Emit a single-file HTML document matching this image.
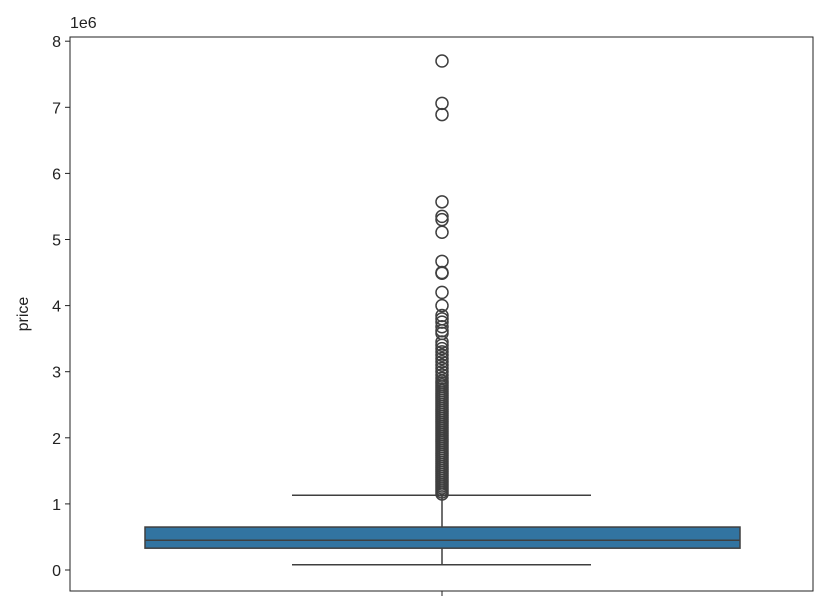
<!DOCTYPE html>
<html><head><meta charset="utf-8"><style>
body{margin:0;background:#fff;}
svg text{font-family:"Liberation Sans","DejaVu Sans",sans-serif;fill:#222;}
</style></head><body>
<svg id="chart" width="832" height="610" xmlns="http://www.w3.org/2000/svg"></svg>
<script>
const tickValues=[0,1,2,3,4,5,6,7,8];
const boxStats={q1:0.33,median:0.45,q3:0.65,whiskerLow:0.08,whiskerHigh:1.13};
const outliers=[7.7,7.06,6.89,5.57,5.35,5.3,5.11,4.67,4.5,4.49,4.2,4.0,3.85,3.8,3.75,3.68,3.62,3.58,3.45,3.4,3.35,3.3,3.25,3.2,3.15,3.1,3.05,3.0,2.95,2.9,2.86,2.83,2.8,2.77,2.74,2.71,2.68,2.65,2.62,2.59,2.56,2.53,2.5,2.47,2.44,2.41,2.38,2.35,2.32,2.29,2.26,2.23,2.2,2.17,2.14,2.11,2.08,2.05,2.02,1.99,1.96,1.93,1.9,1.87,1.84,1.81,1.78,1.75,1.72,1.69,1.66,1.63,1.6,1.57,1.54,1.51,1.48,1.45,1.42,1.39,1.36,1.33,1.3,1.27,1.24,1.21,1.18,1.15];
const svg=document.getElementById('chart');
const NS='http://www.w3.org/2000/svg';
const L=70,R=813,T=37,B=591,cx=442;
const y=v=>570-v*66.1;
function mk(t,a){const e=document.createElementNS(NS,t);for(const k in a)e.setAttribute(k,a[k]);svg.appendChild(e);return e;}
tickValues.forEach(v=>{
  const l=mk('line',{x1:L-5,x2:L,y1:y(v),y2:y(v),stroke:'#222','stroke-width':1});
  
  
  const t=mk('text',{x:L-9,y:y(v)+6,'text-anchor':'end','font-size':'16'});
  t.textContent=v;
  
  
});
const off=mk('text',{x:L,y:28,'font-size':'16'});off.textContent='1e6';


const yl=mk('text',{x:0,y:0,'font-size':'16','text-anchor':'middle',transform:'translate(28,314) rotate(-90)'});yl.textContent='price';


const xt=mk('line',{x1:cx,x2:cx,y1:B,y2:B+5,stroke:'#222'});


const st={stroke:'#3f3f3f','stroke-width':1.5};
const w1=mk('line',Object.assign({x1:cx,x2:cx,y1:y(boxStats.q3),y2:y(boxStats.whiskerHigh)},st));

const w2=mk('line',Object.assign({x1:cx,x2:cx,y1:y(boxStats.q1),y2:y(boxStats.whiskerLow)},st));

const c1=mk('line',Object.assign({x1:292,x2:591,y1:y(boxStats.whiskerHigh),y2:y(boxStats.whiskerHigh)},st));

const c2=mk('line',Object.assign({x1:292,x2:591,y1:y(boxStats.whiskerLow),y2:y(boxStats.whiskerLow)},st));

const box=mk('rect',{x:145,width:595,y:y(boxStats.q3),height:y(boxStats.q1)-y(boxStats.q3),fill:'#3274a1',stroke:'#3f3f3f','stroke-width':1.5});

const md=mk('line',Object.assign({x1:145,x2:740,y1:y(boxStats.median),y2:y(boxStats.median)},st));

outliers.forEach(v=>{
  const c=mk('circle',{cx:cx,cy:y(v),r:6,fill:'none',stroke:'#3f3f3f','stroke-width':1.5});
  
  
});
const fr=mk('rect',{x:L,y:T,width:R-L,height:B-T,fill:'none',stroke:'#222','stroke-width':1});

</script>
</body></html>
